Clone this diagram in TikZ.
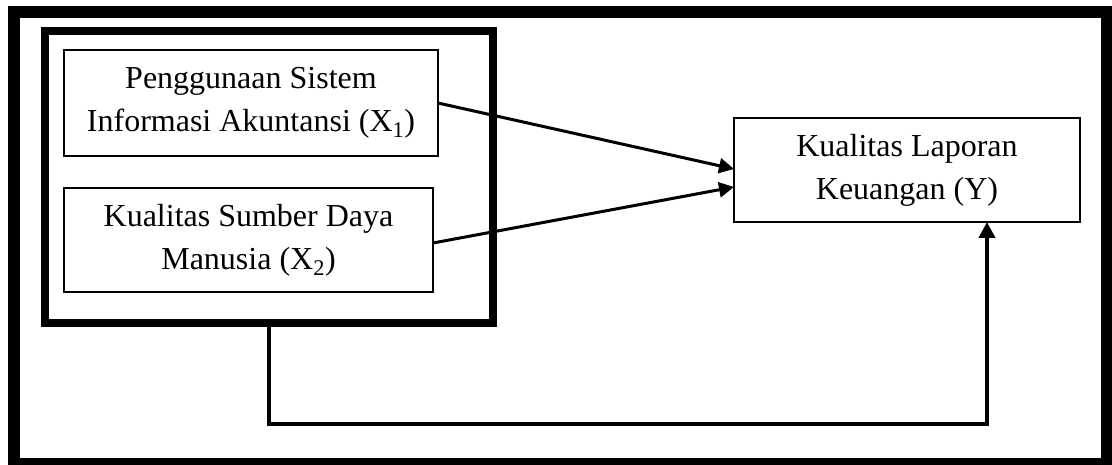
\documentclass[tikz,border=0pt]{standalone}
\usepackage{fontspec}
\setmainfont{Liberation Serif}
\usetikzlibrary{arrows.meta}
\tikzset{
  frm/.style={draw=black, line width=12pt, inner sep=0pt, outer sep=0pt},
  grpbox/.style={draw=black, line width=8pt, inner sep=0pt, outer sep=0pt},
  varbox/.style={draw=black, line width=2.5pt, inner sep=0pt, outer sep=0pt, align=center,
    font=\fontsize{32}{43}\selectfont},
  arr/.style={line width=3pt, -{Triangle[length=15pt,width=15pt]}},
  conn/.style={line width=4.5pt, -{Triangle[length=16pt,width=16pt]}}
}
\begin{document}
\begin{tikzpicture}[x=1pt,y=-1pt]
\useasboundingbox (0,0) rectangle (1112,465);
\node[frm, minimum width=1093.5pt, minimum height=451.5pt] (frame) at (560.25,238.25) {};
\node[grpbox, minimum width=447.5pt, minimum height=291.5pt] (grp) at (268.75,177.25) {};
\node[varbox, minimum width=374pt, minimum height=106pt] (X1) at (251,103)
  {Penggunaan Sistem\\Informasi Akuntansi (X\textsubscript{1})};
\node[varbox, minimum width=369pt, minimum height=104pt] (X2) at (248.5,240)
  {Kualitas Sumber Daya\\Manusia (X\textsubscript{2})};
\node[varbox, minimum width=346pt, minimum height=104pt] (Y) at (907,170)
  {Kualitas Laporan\\Keuangan (Y)};
\draw[arr] (X1.east) -- ([yshift=1pt]Y.west);
\draw[arr] ([yshift=-3pt]X2.east) -- ([yshift=-17pt]Y.west);
\coordinate (turn) at (987,424);
\draw[conn] (grp.south) |- (turn) -- ([xshift=80pt]Y.south);
\end{tikzpicture}
\end{document}
